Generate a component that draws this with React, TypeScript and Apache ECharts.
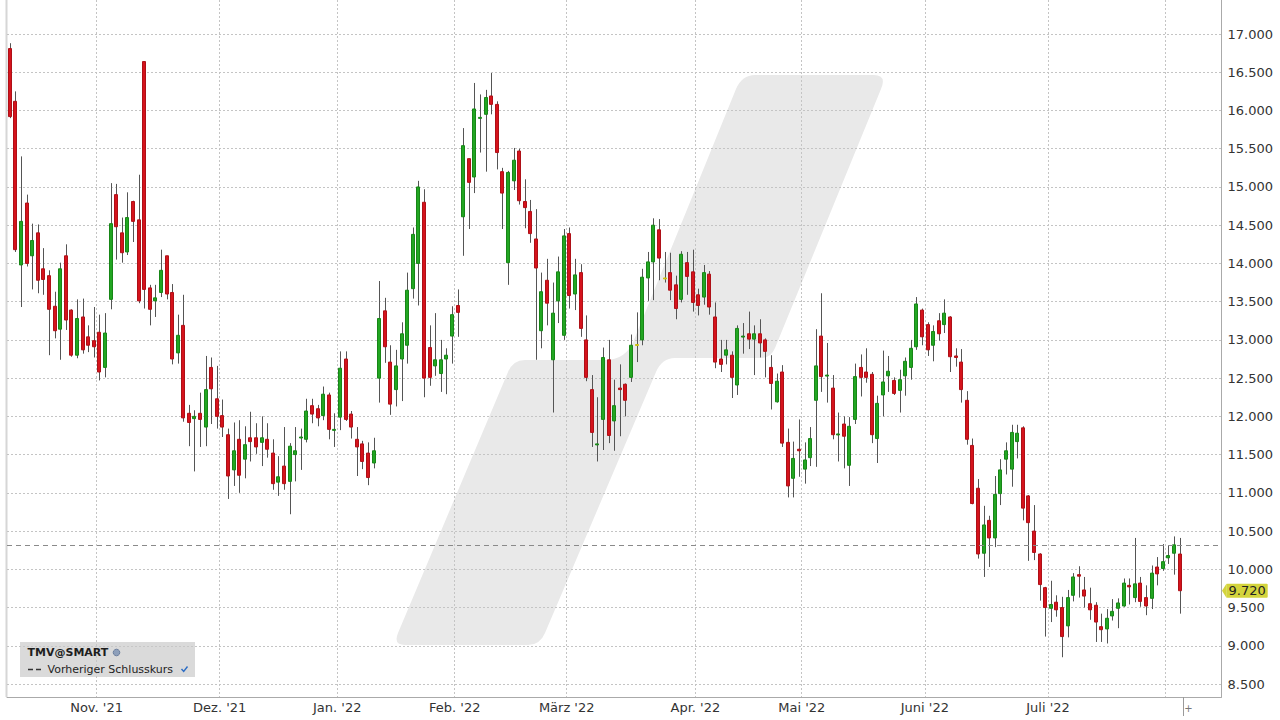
import React, { useEffect, useRef } from "react";
import * as echarts from "echarts";

// ---- data ----
const opens = [
  16.81, 16.12, 13.98, 14.79, 14.10, 14.40, 13.93, 13.84, 13.44, 13.14,
  14.10, 13.39, 12.80, 13.30, 13.04, 12.99, 13.10, 12.64, 13.53, 14.90,
  14.40, 14.15, 14.81, 14.57, 16.64, 13.68, 13.51, 13.62, 14.10, 13.62,
  12.83, 13.19, 12.04, 11.97, 12.04, 11.86, 12.64, 12.23, 12.01, 11.76,
  11.30, 11.70, 11.44, 11.72, 11.72, 11.66, 11.70, 11.52, 11.14, 11.35,
  11.15, 11.50, 11.72, 11.70, 12.14, 12.10, 12.01, 12.28, 11.82, 11.99,
  12.75, 12.03, 11.70, 11.64, 11.52, 11.39, 12.50, 13.38, 12.71, 12.35,
  12.75, 12.93, 13.67, 14.00, 14.80, 12.90, 12.66, 12.56, 12.75, 13.05,
  13.45, 14.61, 15.37, 15.13, 15.90, 15.95, 16.19, 16.08, 15.20, 14.01,
  15.08, 15.47, 14.81, 14.68, 14.32, 13.12, 13.78, 12.74, 13.51, 13.06,
  14.39, 13.60, 13.88, 13.00, 12.35, 11.63, 11.96, 12.74, 11.94, 12.37,
  12.42, 12.51, 12.94, 13.00, 13.81, 14.02, 14.44, 13.81, 13.88, 13.72,
  13.53, 14.01, 13.89, 13.59, 13.56, 13.86, 13.30, 12.75, 12.80, 12.80,
  12.41, 13.04, 13.08, 13.01, 13.08, 13.00, 12.64, 12.19, 12.58, 11.66,
  11.19, 11.57, 11.31, 11.46, 12.21, 13.05, 12.53, 12.37, 11.76, 11.90,
  11.36, 11.96, 12.64, 12.58, 12.55, 11.71, 12.28, 12.53, 12.47, 12.34,
  12.53, 12.64, 12.91, 13.39, 13.20, 12.93, 13.25, 13.20, 13.30, 12.79,
  12.71, 12.21, 11.62, 11.06, 10.21, 10.64, 10.41, 10.99, 11.44, 11.31,
  11.67, 11.85, 10.96, 10.50, 10.20, 9.76, 9.49, 9.57, 9.50, 9.26,
  9.66, 9.93, 9.73, 9.55, 9.53, 9.25, 9.22, 9.39, 9.49, 9.52,
  9.79, 9.63, 9.82, 9.63, 9.62, 10.03, 10.01, 10.15, 10.21, 10.20,
];
const closes = [
  15.92, 14.18, 14.55, 14.00, 14.30, 13.78, 13.79, 13.40, 13.12, 13.93,
  13.26, 12.80, 13.28, 12.87, 12.93, 12.91, 12.58, 13.09, 14.52, 14.48,
  14.14, 14.60, 14.55, 13.51, 13.66, 13.40, 13.55, 13.91, 13.60, 12.75,
  13.06, 11.98, 11.92, 12.00, 11.96, 12.35, 12.36, 12.00, 11.86, 11.22,
  11.55, 11.23, 11.63, 11.67, 11.60, 11.72, 11.57, 11.12, 11.21, 11.12,
  11.61, 11.55, 11.73, 12.07, 12.03, 11.98, 12.29, 11.83, 11.83, 12.63,
  11.96, 11.86, 11.60, 11.41, 11.20, 11.55, 13.28, 12.91, 12.16, 12.66,
  13.08, 13.65, 14.38, 15.00, 12.50, 12.51, 12.74, 12.74, 12.80, 13.33,
  13.36, 15.54, 15.06, 16.02, 15.91, 16.17, 16.08, 15.45, 14.92, 15.19,
  15.35, 14.82, 14.73, 14.39, 13.94, 13.63, 13.48, 13.35, 13.89, 14.36,
  13.58, 13.85, 13.15, 12.51, 11.79, 11.64, 12.77, 11.75, 12.14, 12.35,
  12.21, 12.93, 12.94, 13.82, 14.02, 14.50, 14.07, 13.81, 13.65, 13.41,
  14.12, 13.83, 13.49, 13.45, 13.88, 13.43, 12.71, 12.68, 12.87, 12.51,
  13.15, 13.05, 13.01, 13.08, 12.96, 12.85, 12.43, 12.46, 11.65, 11.09,
  11.45, 11.55, 11.43, 11.71, 12.66, 12.52, 12.54, 11.76, 11.77, 11.74,
  11.87, 12.52, 12.51, 12.51, 11.76, 12.17, 12.45, 12.59, 12.30, 12.48,
  12.72, 12.89, 13.47, 13.04, 12.87, 13.11, 13.08, 13.35, 12.78, 12.77,
  12.35, 11.70, 10.86, 10.20, 10.58, 10.41, 10.98, 11.30, 11.55, 11.79,
  11.78, 10.80, 10.61, 10.22, 9.80, 9.50, 9.54, 9.47, 9.12, 9.63,
  9.90, 9.91, 9.65, 9.47, 9.31, 9.21, 9.36, 9.45, 9.56, 9.82,
  9.77, 9.81, 9.58, 9.52, 9.95, 9.94, 10.10, 10.18, 10.32, 9.72,
];
const highs = [
  16.88, 16.25, 15.40, 14.90, 14.52, 14.51, 14.20, 13.91, 13.63, 14.01,
  14.25, 13.40, 13.53, 13.54, 13.19, 13.43, 13.33, 13.35, 15.05, 15.04,
  14.60, 14.93, 14.82, 15.16, 16.64, 13.72, 13.72, 14.18, 14.10, 13.73,
  13.33, 13.59, 12.15, 12.08, 12.31, 12.79, 12.77, 12.66, 12.22, 11.84,
  11.92, 11.95, 11.87, 12.06, 11.91, 12.00, 11.91, 11.70, 11.48, 11.86,
  11.65, 11.86, 11.84, 12.23, 12.23, 12.15, 12.39, 12.31, 12.04, 12.85,
  12.85, 12.07, 11.86, 11.68, 11.66, 11.72, 13.77, 13.55, 12.93, 12.87,
  13.23, 13.88, 14.47, 15.08, 14.97, 13.19, 13.35, 13.00, 12.89, 13.44,
  13.66, 15.77, 15.37, 16.36, 16.21, 16.27, 16.49, 16.12, 15.25, 15.21,
  15.51, 15.50, 15.10, 14.83, 14.71, 13.88, 14.06, 13.75, 14.09, 14.45,
  14.47, 14.06, 13.99, 13.32, 12.54, 12.25, 12.90, 13.00, 12.48, 12.68,
  12.43, 13.07, 13.36, 13.93, 14.15, 14.59, 14.58, 14.15, 14.14, 13.84,
  14.16, 14.15, 14.18, 13.67, 13.98, 13.90, 13.49, 13.00, 13.00, 12.85,
  13.19, 13.22, 13.37, 13.19, 13.27, 13.02, 12.80, 12.56, 12.67, 11.84,
  11.67, 11.96, 11.66, 11.86, 13.14, 13.61, 12.96, 12.54, 12.05, 12.00,
  11.99, 12.69, 12.81, 12.89, 12.58, 12.27, 12.86, 12.79, 12.51, 12.61,
  12.77, 13.00, 13.56, 13.41, 13.23, 13.19, 13.35, 13.53, 13.31, 12.89,
  12.88, 12.33, 11.71, 11.18, 10.83, 10.70, 11.22, 11.44, 11.66, 11.89,
  11.89, 11.87, 10.97, 10.84, 10.21, 9.77, 9.85, 9.66, 9.64, 9.73,
  9.95, 10.04, 9.90, 9.76, 9.57, 9.42, 9.48, 9.61, 9.62, 9.88,
  9.88, 10.41, 9.90, 9.79, 10.05, 10.16, 10.33, 10.31, 10.43, 10.41,
];
const lows = [
  15.90, 14.15, 13.43, 13.96, 13.66, 13.61, 13.59, 12.80, 13.02, 12.74,
  13.13, 12.78, 12.76, 12.82, 12.84, 12.77, 12.47, 12.51, 13.40, 14.05,
  14.01, 14.11, 14.28, 13.48, 13.41, 13.19, 13.30, 13.56, 13.53, 12.68,
  12.69, 11.93, 11.61, 11.28, 11.60, 11.61, 11.90, 11.84, 11.73, 10.92,
  11.09, 11.00, 11.19, 11.41, 11.51, 11.35, 11.46, 11.04, 10.96, 11.04,
  10.72, 11.15, 11.30, 11.66, 11.91, 11.87, 11.95, 11.70, 11.60, 11.82,
  11.94, 11.71, 11.22, 11.31, 11.10, 11.32, 12.18, 12.70, 12.02, 12.13,
  12.20, 12.69, 13.54, 13.45, 12.25, 12.40, 12.53, 12.32, 12.29, 12.69,
  13.04, 14.10, 14.45, 14.92, 15.45, 15.20, 15.95, 15.23, 14.45, 13.72,
  14.96, 14.77, 14.46, 14.27, 12.74, 12.89, 13.19, 12.05, 13.22, 13.00,
  13.41, 13.39, 13.04, 12.46, 11.60, 11.41, 11.56, 11.65, 11.55, 11.74,
  12.00, 12.45, 12.71, 12.93, 13.51, 13.52, 13.78, 13.75, 13.52, 13.27,
  13.49, 13.59, 13.37, 13.32, 13.46, 13.33, 12.63, 12.58, 12.68, 12.24,
  12.28, 12.82, 12.88, 12.54, 12.77, 12.51, 12.09, 12.18, 11.60, 10.94,
  10.94, 11.21, 11.12, 11.35, 11.34, 12.32, 12.18, 11.70, 11.41, 11.32,
  11.09, 11.90, 12.26, 12.44, 11.65, 11.39, 12.00, 12.32, 12.28, 12.05,
  12.27, 12.48, 12.87, 12.93, 12.79, 12.72, 12.99, 13.09, 12.58, 12.65,
  12.18, 11.63, 10.85, 10.14, 9.90, 10.03, 10.29, 10.84, 11.24, 11.08,
  11.45, 10.64, 10.11, 10.12, 9.59, 9.12, 9.31, 9.38, 8.85, 9.11,
  9.58, 9.63, 9.50, 9.34, 9.05, 9.05, 9.03, 9.33, 9.23, 9.51,
  9.54, 9.57, 9.51, 9.40, 9.48, 9.79, 9.98, 10.07, 9.93, 9.42,
];

// trading calendar (German exchange days) for the category axis
const HOLIDAYS = ["2021-12-24", "2021-12-31", "2022-04-15", "2022-04-18"];
const FIRST_DAY = "2021-10-08";
const LAST_AXIS_DAY = "2022-08-12";
const MONTH_LABELS: Record<string, string> = {
  "2021-11": "Nov. '21",
  "2021-12": "Dez. '21",
  "2022-01": "Jan. '22",
  "2022-02": "Feb. '22",
  "2022-03": "März '22",
  "2022-04": "Apr. '22",
  "2022-05": "Mai '22",
  "2022-06": "Juni '22",
  "2022-07": "Juli '22",
};
const Y_MIN = 8.33;
const Y_MAX = 17.445;
const Y_STEP = 0.5;

const LOGO_PATH =
  "M 755 75 L 874 75 Q 887 75 881 89 L 775 348 Q 771 358 761 358 L 675 358 Q 662 358 656 372 " +
  "L 545 633 Q 540 645 528 645 L 405 645 Q 393 645 398 633 L 508 372 Q 513 360 525 360 " +
  "L 605 360 Q 626 360 634 340 L 736 89 Q 742 75 755 75 Z";

function buildDates(): string[] {
  const out: string[] = [];
  const d = new Date(FIRST_DAY + "T00:00:00Z");
  const end = new Date(LAST_AXIS_DAY + "T00:00:00Z").getTime();
  while (d.getTime() <= end) {
    const wd = d.getUTCDay();
    const s = d.toISOString().slice(0, 10);
    if (wd !== 0 && wd !== 6 && HOLIDAYS.indexOf(s) < 0) out.push(s);
    d.setUTCDate(d.getUTCDate() + 1);
  }
  return out;
}

let logoRegistered = false;
function ensureLogo() {
  if (logoRegistered) return;
  echarts.graphic.registerShape("tmvlogo", echarts.graphic.extendPath(LOGO_PATH, {}) as any);
  logoRegistered = true;
}

const FONT = "DejaVu Sans, Verdana, sans-serif";
const UP_FILL = "#22a622";
const UP_STROKE = "#178617";
const DOWN_FILL = "#d5131c";
const DOWN_STROKE = "#ae1017";
const FLAT = "#e4d81c";
const WICK = "#555555";
const GRID_LINE = "#c4c4c4";
const TAG_COLOR = "#d4d43c";

export default function App() {
  const ref = useRef<HTMLDivElement>(null);

  useEffect(() => {
    if (!ref.current) return;
    ensureLogo();
    const chart = echarts.init(ref.current, null, { renderer: "svg" });

    const dates = buildDates();
    const monthStarts = new Set<number>();
    const labelIdx: Record<number, string> = {};
    for (let i = 1; i < dates.length; i++) {
      const m = dates[i].slice(0, 7);
      if (m !== dates[i - 1].slice(0, 7)) {
        monthStarts.add(i);
        if (MONTH_LABELS[m]) labelIdx[i] = MONTH_LABELS[m];
      }
    }

    const candleData = opens.map((o, i) => [i, o, closes[i], lows[i], highs[i]]);
    const prevClose = closes[closes.length - 2];
    const lastClose = closes[closes.length - 1];

    const option: any = {
      animation: false,
      backgroundColor: "#ffffff",
      textStyle: { fontFamily: FONT },
      grid: { left: 7, right: 58.5, top: 0, bottom: 23, containLabel: false, outerBoundsMode: "none" },
      xAxis: {
        type: "category",
        data: dates,
        boundaryGap: true,
        axisLine: { show: true, lineStyle: { color: "#aaaaaa", width: 1 } },
        axisTick: { show: false },
        axisLabel: {
          interval: (idx: number) => labelIdx[idx] !== undefined,
          formatter: (_v: string, idx: number) => labelIdx[idx] || "",
          color: "#333333",
          fontSize: 13,
          fontFamily: FONT,
          margin: 4,
          padding: [0, 5.6, 0, 0],
        },
        splitLine: {
          show: true,
          interval: (idx: number) => monthStarts.has(idx),
          lineStyle: { color: GRID_LINE, type: [2, 2], width: 1 },
        },
      },
      yAxis: {
        type: "value",
        position: "right",
        min: Y_MIN,
        max: Y_MAX,
        splitNumber: 18,
        minInterval: Y_STEP,
        maxInterval: Y_STEP,
        scale: true,
        axisLine: { show: true, lineStyle: { color: "#aaaaaa", width: 1 } },
        axisTick: { show: false },
        axisLabel: {
          color: "#333333",
          fontSize: 13,
          fontFamily: FONT,
          margin: 6,
          showMinLabel: false,
          showMaxLabel: false,
          formatter: (v: number) => v.toFixed(3),
        },
        splitLine: {
          show: true,
          showMinLine: false,
          showMaxLine: false,
          lineStyle: { color: GRID_LINE, type: [2, 2], width: 1 },
        },
      },
      series: [
        {
          type: "custom",
          name: "TMV@SMART",
          data: candleData,
          encode: { x: 0, y: [1, 2, 3, 4] },
          silent: true,
          renderItem: (_params: any, api: any) => {
            const idx = api.value(0);
            const o = api.value(1);
            const c = api.value(2);
            const l = api.value(3);
            const h = api.value(4);
            const pO = api.coord([idx, o]);
            const pC = api.coord([idx, c]);
            const pL = api.coord([idx, l]);
            const pH = api.coord([idx, h]);
            const cx = Math.round(pO[0]) + 0.5;
            const top = Math.min(pO[1], pC[1]);
            const bot = Math.max(pO[1], pC[1]);
            let fill = FLAT;
            let stroke = "#c9bd10";
            if (c > o) {
              fill = UP_FILL;
              stroke = UP_STROKE;
            } else if (c < o) {
              fill = DOWN_FILL;
              stroke = DOWN_STROKE;
            }
            const bodyH = Math.max(bot - top, 1);
            return {
              type: "group",
              children: [
                {
                  type: "line",
                  shape: { x1: cx, y1: pH[1], x2: cx, y2: pL[1] },
                  style: { stroke: WICK, lineWidth: 1 },
                },
                {
                  type: "rect",
                  shape: { x: cx - 2, y: top, width: 3, height: bodyH },
                  style: { fill, stroke, lineWidth: 1 },
                },
              ],
            };
          },
        },
        {
          type: "line",
          name: "Vorheriger Schlusskurs",
          data: closes,
          symbol: "none",
          showSymbol: false,
          silent: true,
          lineStyle: { color: "rgba(0,0,0,0)", width: 0 },
          markLine: {
            silent: true,
            symbol: ["none", "none"],
            animation: false,
            data: [
              {
                yAxis: prevClose,
                lineStyle: { color: "#8a8a8a", type: [5, 4], width: 1 },
                label: { show: false },
              },
              {
                yAxis: lastClose,
                lineStyle: { color: "rgba(0,0,0,0)", width: 0 },
                label: {
                  show: true,
                  position: "end",
                  distance: 5,
                  formatter: () => lastClose.toFixed(3),
                  color: "#222222",
                  fontSize: 13,
                  fontFamily: FONT,
                  backgroundColor: TAG_COLOR,
                  padding: [1, 2, 0, 2],
                  borderRadius: 1,
                },
              },
            ],
          },
        },
      ],
    };

    chart.setOption(option);

    // pixel position of the last price, taken from the library's own y scale
    const tagY = chart.convertToPixel({ yAxisIndex: 0 }, lastClose) as number;

    chart.setOption({
      graphic: {
        elements: [
          {
            id: "logo",
            type: "tmvlogo",
            x: 0,
            y: 0,
            z: -5,
            silent: true,
            style: { fill: "#e9e9e9" },
          },
          {
            id: "leftBorder",
            type: "rect",
            z: -4,
            silent: true,
            shape: { x: 5.5, y: 0, width: 2, height: 697 },
            style: { fill: "#d6d6d6" },
          },
          {
            id: "tagTip",
            type: "polygon",
            z: 50,
            silent: true,
            shape: { points: [[1222, tagY], [1226.6, tagY - 7.3], [1226.6, tagY + 7.3]] },
            style: { fill: TAG_COLOR },
          },
          {
            id: "legendBox",
            type: "rect",
            z: 50,
            silent: true,
            shape: { x: 20, y: 642, width: 175, height: 35 },
            style: { fill: "rgba(200,200,200,0.68)" },
          },
          {
            id: "legendTitle",
            type: "text",
            z: 51,
            silent: true,
            style: {
              text: "TMV@SMART",
              x: 27.5,
              y: 652.5,
              fill: "#1e1e1e",
              font: "bold 11px " + FONT,
              verticalAlign: "middle",
              textVerticalAlign: "middle",
            },
          },
          {
            id: "legendGlobe",
            type: "circle",
            z: 51,
            silent: true,
            shape: { cx: 116.5, cy: 652.5, r: 3.3 },
            style: { fill: "#8d9fba", stroke: "#5b7093", lineWidth: 0.8 },
          },
          {
            id: "legendDash",
            type: "line",
            z: 51,
            silent: true,
            shape: { x1: 28, y1: 669.5, x2: 44, y2: 669.5 },
            style: { stroke: "#333333", lineWidth: 1.3, lineDash: [5, 3] },
          },
          {
            id: "legendText",
            type: "text",
            z: 51,
            silent: true,
            style: {
              text: "Vorheriger Schlusskurs",
              x: 47.5,
              y: 669.5,
              fill: "#1e1e1e",
              font: "11px " + FONT,
              verticalAlign: "middle",
              textVerticalAlign: "middle",
            },
          },
          {
            id: "legendCheck",
            type: "polyline",
            z: 51,
            silent: true,
            shape: { points: [[181.5, 669], [183.7, 671.5], [187.5, 666.5]] },
            style: { stroke: "#2b6cc4", lineWidth: 1.4, fill: null },
          },
          {
            id: "posLine",
            type: "line",
            z: 51,
            silent: true,
            shape: { x1: 1183.5, y1: 697, x2: 1183.5, y2: 716 },
            style: { stroke: "#9a9a9a", lineWidth: 1 },
          },
          {
            id: "posPlus",
            type: "text",
            z: 51,
            silent: true,
            style: {
              text: "+",
              x: 1188.5,
              y: 708.5,
              fill: "#777777",
              font: "10px " + FONT,
              align: "center",
              textAlign: "center",
              verticalAlign: "middle",
              textVerticalAlign: "middle",
            },
          },
        ],
      },
    });

    return () => chart.dispose();
  }, []);

  return (
    <div
      ref={ref}
      style={{ position: "absolute", left: 0, top: 0, width: 1280, height: 720, background: "#ffffff" }}
    />
  );
}
